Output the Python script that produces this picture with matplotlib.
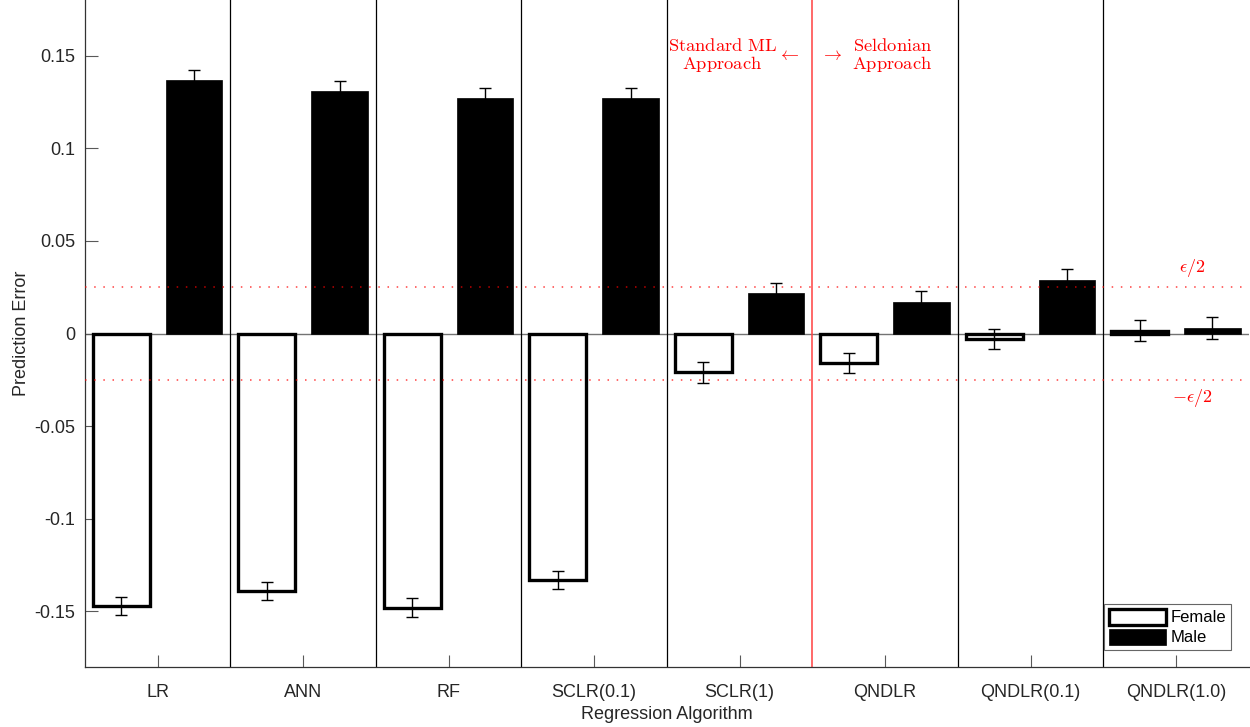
import matplotlib
matplotlib.use("Agg")
import matplotlib.pyplot as plt
import numpy as np

# prediction error per algorithm, split by gender
algorithms = ["LR", "ANN", "RF", "SCLR(0.1)", "SCLR(1)", "QNDLR", "QNDLR(0.1)", "QNDLR(1.0)"]
female = [-0.147, -0.139, -0.148, -0.133, -0.021, -0.016, -0.003, 0.0015]
male = [0.137, 0.131, 0.127, 0.127, 0.022, 0.017, 0.029, 0.003]
female_err = [0.005, 0.005, 0.005, 0.005, 0.0055, 0.0055, 0.0055, 0.0057]
male_err = [0.0054, 0.0054, 0.0054, 0.0054, 0.0055, 0.006, 0.0058, 0.006]
eps_half = 0.025

plt.rcParams['font.family'] = ['Liberation Sans', 'DejaVu Sans']
plt.rcParams['mathtext.fontset'] = 'cm'

fig = plt.figure(figsize=(12.5, 7.27), dpi=100)
ax = fig.add_axes([0.068, 0.0825, 0.931, 0.9175])

x = np.arange(1, len(algorithms) + 1)
w = 0.39
off = 0.25

ax.axhline(0, color='0.45', lw=1, zorder=1)
ax.bar(x - off, female, w, color='white', edgecolor='black', linewidth=2.4,
       label='Female', zorder=2)
ax.bar(x + off, male, w, color='black', edgecolor='black', linewidth=0.5,
       label='Male', zorder=2)
ax.errorbar(x - off, female, yerr=female_err, fmt='none', ecolor='black',
            elinewidth=1, capsize=4, capthick=1, zorder=3)
ax.errorbar(x + off, male, yerr=male_err, fmt='none', ecolor='black',
            elinewidth=1, capsize=4, capthick=1, zorder=3)

# group separators, red one between standard and seldonian methods
for s in np.arange(1.5, len(algorithms), 1.0):
    if s == 5.5:
        ax.axvline(s, color='#ff4040', lw=1.1, zorder=1)
    else:
        ax.axvline(s, color='black', lw=0.9, zorder=1)

# fairness threshold lines
for yv in (eps_half, -eps_half):
    ax.axhline(yv, color='red', alpha=0.75, lw=1.1, ls=(0, (1, 5)), zorder=4)

ax.text(8.11, 0.0354, r'$\epsilon/2$', color='red', fontsize=13, ha='center', va='center')
ax.text(8.11, -0.0348, r'$-\epsilon/2$', color='red', fontsize=13, ha='center', va='center')

ax.text(4.88, 0.1498, r'$\mathrm{Standard\ ML}$' + '\n' + r'$\mathrm{Approach}$',
        color='red', fontsize=13.3, ha='center', va='center', multialignment='center',
        linespacing=0.95)
ax.text(5.33, 0.1498, r'$\leftarrow$', color='red', fontsize=13, ha='center', va='center')
ax.text(5.63, 0.1498, r'$\rightarrow$', color='red', fontsize=13, ha='center', va='center')
ax.text(6.05, 0.1498, r'$\mathrm{Seldonian}$' + '\n' + r'$\mathrm{Approach}$',
        color='red', fontsize=13.3, ha='center', va='center', multialignment='center',
        linespacing=0.95)

ax.set_xlim(0.5, len(algorithms) + 0.5)
ax.set_ylim(-0.18, 0.18)
ax.set_xticks(x)
ax.set_xticklabels(algorithms)
yt = [-0.15, -0.1, -0.05, 0, 0.05, 0.1, 0.15]
ax.set_yticks(yt)
ax.set_yticklabels(['-0.15', '-0.1', '-0.05', '0', '0.05', '0.1', '0.15'])
ax.tick_params(direction='in', length=9, width=0.8, color='0.35',
               labelsize=13, labelcolor='0.15')
ax.tick_params(axis='x', pad=12)
ax.tick_params(axis='y', pad=7)
for side in ('top', 'right'):
    ax.spines[side].set_visible(False)
for side in ('left', 'bottom'):
    ax.spines[side].set_color('0.2')
    ax.spines[side].set_linewidth(0.9)

ax.set_xlabel('Regression Algorithm', fontsize=13, color='0.15', labelpad=4)
ax.set_ylabel('Prediction Error', fontsize=13, color='0.15', labelpad=3)

leg = ax.legend(loc='lower right', bbox_to_anchor=(0.985, 0.025), fontsize=12,
                fancybox=False, framealpha=1, edgecolor='0.4', handlelength=3.4,
                handleheight=1.1, handletextpad=0.3, borderpad=0.3, labelspacing=0.2,
                borderaxespad=0)
leg.get_frame().set_linewidth(0.8)

fig.savefig('out.png', dpi=100)
